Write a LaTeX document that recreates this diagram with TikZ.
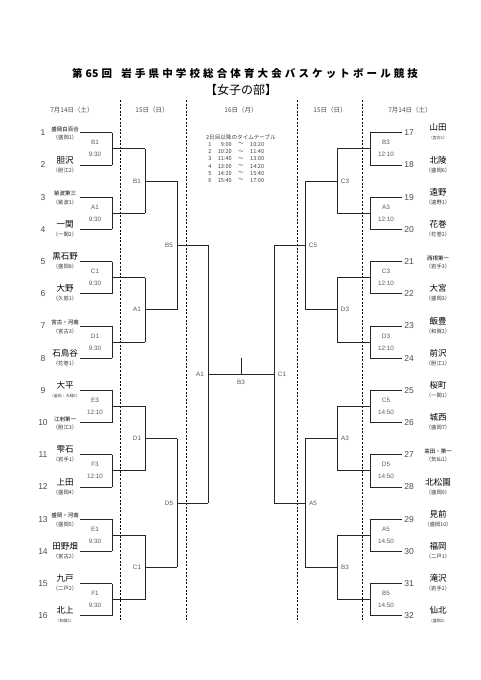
\documentclass[tikz,border=0pt]{standalone}
\usepackage{fontspec}
\setmainfont{Noto Sans CJK JP}
\newfontfamily\jp{Noto Sans CJK JP}
\newfontfamily\lat{Liberation Sans}
\tikzset{
  br/.style={line width=0.8pt, draw=black!85},
  sepline/.style={line width=0.8pt, dash pattern=on 2pt off 1.6pt, draw=black},
  numtxt/.style={font=\lat\fontsize{8.5}{9}\selectfont, text=black!70, inner sep=0pt},
  bigname/.style={font=\jp\fontsize{8.5}{9}\selectfont, inner sep=0pt, yshift=5pt},
  smallname/.style={font=\jp\fontsize{5.5}{6}\selectfont, inner sep=0pt, yshift=3.5pt},
  subname/.style={font=\jp\fontsize{5.3}{6}\selectfont, text=black!80, inner sep=0pt, yshift=-5.2pt},
  tinyname/.style={font=\jp\fontsize{4}{5}\selectfont, text=black!80, inner sep=0pt, yshift=-5.2pt},
  mlab/.style={font=\lat\fontsize{6.3}{7}\selectfont, text=black!65, inner sep=0pt},
  datelab/.style={font=\jp\fontsize{6.5}{7}\selectfont, text=black!70, inner sep=0pt},
  ttab/.style={font=\jp\fontsize{5.6}{6}\selectfont, text=black!75, inner sep=0pt},
}
\newcommand\teamL[5]{%
  \pgfmathsetmacro\yy{132.7+(#1-1)*32.2}
  \node[numtxt] (nL#1) at (43,\yy) {#1};
  \node[#4] (naL#1) at (65,\yy) {#2};
  \node[#5] (sbL#1) at (65,\yy) {#3};
  \coordinate (s#1) at (80,\yy);
  \coordinate (o0-#1) at (112,\yy);
  \draw[br] (s#1) -- (o0-#1);
}
\newcommand\teamR[5]{%
  \pgfmathsetmacro\yy{132.7+(#1-17)*32.2}
  \node[numtxt] (nR#1) at (409,\yy) {#1};
  \node[#4] (naR#1) at (438,\yy) {#2};
  \node[#5] (sbR#1) at (438,\yy) {#3};
  \coordinate (s#1) at (402,\yy);
  \coordinate (o0-#1) at (370,\yy);
  \draw[br] (s#1) -- (o0-#1);
}
\begin{document}
\begin{tikzpicture}[x=1pt,y=-1pt]
\useasboundingbox (0,0) rectangle (481,680);
\fill[white] (0,0) rectangle (481,680);
% title
\node[font=\jp\bfseries\fontsize{10.5}{11}\selectfont, inner sep=0pt] (title) at (245,74)
  {\makebox[346pt][s]{第 65 回 \ \ 岩 手 県 中 学 校 総 合 体 育 大 会 バ ス ケ ッ ト ボ ー ル 競 技}};
\node[font=\jp\fontsize{12}{13}\selectfont, inner sep=0pt] (subt) at (241,90) {【女子の部】};
% dates
\node[datelab] (d1) at (72,110) {7月14日（土）};
\node[datelab] (d2) at (152,110) {15日（日）};
\node[datelab] (d3) at (241,110) {16日（月）};
\node[datelab] (d4) at (330,110) {15日（日）};
\node[datelab] (d5) at (410,110) {7月14日（土）};
% dashed separators
\foreach \x [count=\c] in {120,186,297,362}{
  \coordinate (sepT\c) at (\x,100);
  \coordinate (sepB\c) at (\x,622);
  \draw[sepline] (sepT\c) -- (sepB\c);
}
% timetable
\node[ttab] (tth) at (241,137) {2日目以降のタイムテーブル};
\foreach \r/\a/\b in {1/9:00/10:20,2/10:20/11:40,3/11:40/13:00,4/13:00/14:20,5/14:20/15:40,6/15:40/17:00}{
  \pgfmathsetmacro\ty{144.5+(\r-1)*7.2}
  \node[ttab] (ttn\r) at (210,\ty) {\r};
  \node[ttab, anchor=east] (tta\r) at (232,\ty) {\a};
  \node[ttab] (ttw\r) at (241,\ty) {～};
  \node[ttab, anchor=west] (ttb\r) at (250,\ty) {\b};
}
% teams left
\teamL{1}{盛岡白百合}{（盛岡1）}{smallname}{subname}
\teamL{2}{胆沢}{（胆江2）}{bigname}{subname}
\teamL{3}{紫波第三}{（紫波1）}{smallname}{subname}
\teamL{4}{一関}{（一関2）}{bigname}{subname}
\teamL{5}{黒石野}{（盛岡8）}{bigname}{subname}
\teamL{6}{大野}{（久慈1）}{bigname}{subname}
\teamL{7}{宮古・河南}{（宮古3）}{smallname}{subname}
\teamL{8}{石鳥谷}{（花巻1）}{bigname}{subname}
\teamL{9}{大平}{（釜石・大槌1）}{bigname}{tinyname}
\teamL{10}{江刺第一}{（胆江3）}{smallname}{subname}
\teamL{11}{雫石}{（岩手1）}{bigname}{subname}
\teamL{12}{上田}{（盛岡4）}{bigname}{subname}
\teamL{13}{盛岡・河南}{（盛岡5）}{smallname}{subname}
\teamL{14}{田野畑}{（宮古2）}{bigname}{subname}
\teamL{15}{九戸}{（二戸2）}{bigname}{subname}
\teamL{16}{北上}{（和賀1）}{bigname}{tinyname}
% teams right
\teamR{17}{山田}{（宮古1）}{bigname}{tinyname}
\teamR{18}{北陵}{（盛岡6）}{bigname}{subname}
\teamR{19}{遠野}{（遠野1）}{bigname}{subname}
\teamR{20}{花巻}{（花巻2）}{bigname}{subname}
\teamR{21}{西根第一}{（岩手3）}{smallname}{subname}
\teamR{22}{大宮}{（盛岡3）}{bigname}{subname}
\teamR{23}{飯豊}{（和賀2）}{bigname}{subname}
\teamR{24}{前沢}{（胆江1）}{bigname}{subname}
\teamR{25}{桜町}{（一関1）}{bigname}{subname}
\teamR{26}{城西}{（盛岡7）}{bigname}{subname}
\teamR{27}{高田・第一}{（気仙1）}{smallname}{subname}
\teamR{28}{北松園}{（盛岡9）}{bigname}{subname}
\teamR{29}{見前}{（盛岡10）}{bigname}{subname}
\teamR{30}{福岡}{（二戸1）}{bigname}{subname}
\teamR{31}{滝沢}{（岩手2）}{bigname}{subname}
\teamR{32}{仙北}{（盛岡2）}{bigname}{tinyname}
% level 1 left
\foreach \i/\lab/\tm in {1/B1/9:30,2/A1/9:30,3/C1/9:30,4/D1/9:30,5/E3/12:10,6/F3/12:10,7/E1/9:30,8/F1/9:30}{
  \pgfmathtruncatemacro\ta{2*\i-1}
  \pgfmathtruncatemacro\tb{2*\i}
  \draw[br] (o0-\ta) -- (o0-\tb);
  \pgfmathsetmacro\m{148.8+(\i-1)*64.4}
  \coordinate (a1-\i) at (112,\m);
  \coordinate (o1-\i) at (145,\m);
  \draw[br] (a1-\i) -- (o1-\i);
  \node[mlab] (ml\i) at (95,\m-6) {\lab};
  \node[mlab] (mt\i) at (95,\m+6) {\tm};
}
% level 1 right
\foreach \i/\lab/\tm in {9/B3/12:10,10/A3/12:10,11/C3/12:10,12/D3/12:10,13/C5/14:50,14/D5/14:50,15/A5/14:50,16/B5/14:50}{
  \pgfmathtruncatemacro\ta{2*\i-1}
  \pgfmathtruncatemacro\tb{2*\i}
  \draw[br] (o0-\ta) -- (o0-\tb);
  \pgfmathsetmacro\m{148.8+(\i-9)*64.4}
  \coordinate (a1-\i) at (370,\m);
  \coordinate (o1-\i) at (337,\m);
  \draw[br] (a1-\i) -- (o1-\i);
  \node[mlab] (ml\i) at (386,\m-6) {\lab};
  \node[mlab] (mt\i) at (386,\m+6) {\tm};
}
% level 2 left
\foreach \j/\lab in {1/B1,2/A1,3/D1,4/C1}{
  \pgfmathtruncatemacro\ta{2*\j-1}
  \pgfmathtruncatemacro\tb{2*\j}
  \draw[br] (o1-\ta) -- (o1-\tb);
  \pgfmathsetmacro\m{181+(\j-1)*128.8}
  \coordinate (a2-\j) at (145,\m);
  \coordinate (o2-\j) at (177,\m);
  \draw[br] (a2-\j) -- (o2-\j);
  \node[mlab] (l2-\j) at (137,\m) {\lab};
}
% level 2 right
\foreach \j/\lab in {5/C3,6/D3,7/A3,8/B3}{
  \pgfmathtruncatemacro\ta{2*\j-1}
  \pgfmathtruncatemacro\tb{2*\j}
  \draw[br] (o1-\ta) -- (o1-\tb);
  \pgfmathsetmacro\m{181+(\j-5)*128.8}
  \coordinate (a2-\j) at (337,\m);
  \coordinate (o2-\j) at (305,\m);
  \draw[br] (a2-\j) -- (o2-\j);
  \node[mlab] (l2-\j) at (345,\m) {\lab};
}
% level 3 left
\foreach \l/\lab in {1/B5,2/D5}{
  \pgfmathtruncatemacro\ta{2*\l-1}
  \pgfmathtruncatemacro\tb{2*\l}
  \draw[br] (o2-\ta) -- (o2-\tb);
  \pgfmathsetmacro\m{245.4+(\l-1)*257.6}
  \coordinate (a3-\l) at (177,\m);
  \coordinate (o3-\l) at (208,\m);
  \draw[br] (a3-\l) -- (o3-\l);
  \node[mlab] (l3-\l) at (169,\m) {\lab};
}
% level 3 right
\foreach \l/\lab in {3/C5,4/A5}{
  \pgfmathtruncatemacro\ta{2*\l-1}
  \pgfmathtruncatemacro\tb{2*\l}
  \draw[br] (o2-\ta) -- (o2-\tb);
  \pgfmathsetmacro\m{245.4+(\l-3)*257.6}
  \coordinate (a3-\l) at (305,\m);
  \coordinate (o3-\l) at (274,\m);
  \draw[br] (a3-\l) -- (o3-\l);
  \node[mlab] (l3-\l) at (313,\m) {\lab};
}
% final
\draw[br] (o3-1) -- (o3-2);
\draw[br] (o3-3) -- (o3-4);
\coordinate (fL) at (208,374.2);
\coordinate (fR) at (274,374.2);
\coordinate (fM) at (241,374.2);
\coordinate (fT) at (241,357.5);
\draw[br] (fL) -- (fR);
\draw[br] (fM) -- (fT);
\node[mlab] (finA) at (200,374.2) {A1};
\node[mlab] (finC) at (282,374.2) {C1};
\node[mlab] (finB) at (241,382) {B3};
\end{tikzpicture}
\end{document}
